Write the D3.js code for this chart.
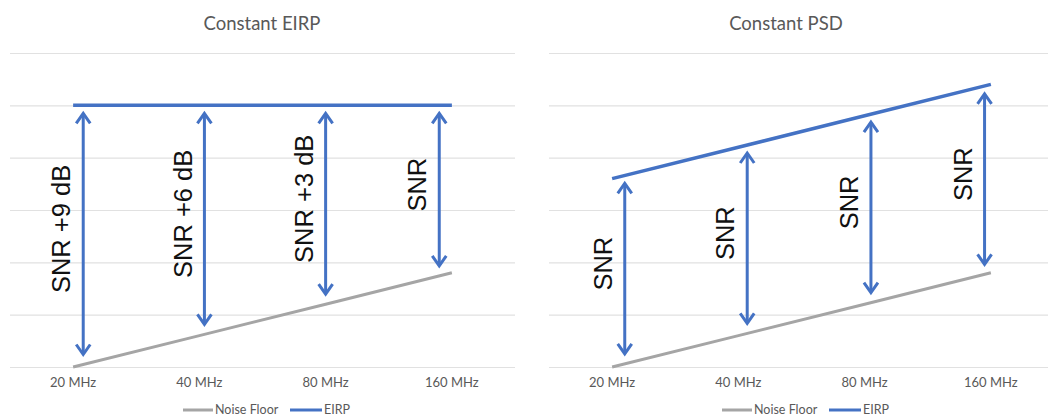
<!DOCTYPE html>
<html>
<head>
<meta charset="utf-8">
<script src="https://cdn.jsdelivr.net/npm/d3@7"></script>
<style>
  html, body { margin: 0; padding: 0; background: #fff; }
  svg { display: block; }
</style>
</head>
<body>
<div class="container"></div>
<script>
/* Data */
const categories = ['20 MHz', '40 MHz', '80 MHz', '160 MHz'];
const noiseFloor = [0, 0.6, 1.2, 1.8];
const eirpConstEirp = [5, 5, 5, 5];
const eirpConstPsd = [3.6, 4.2, 4.8, 5.4];
const titles = ['Constant EIRP', 'Constant PSD'];
const snrLabelsEirp = ['SNR +9 dB', 'SNR +6 dB', 'SNR +3 dB', 'SNR'];
const snrLabelsPsd = ['SNR', 'SNR', 'SNR', 'SNR'];
// where each SNR arrow sits, in category units (0 = first category)
const arrowAtEirp = [0.08, 1.04, 2.0, 2.9];
const arrowAtPsd = [0.1, 1.07, 2.05, 2.95];
const yTicks = [0, 1, 2, 3, 4, 5, 6];

/* Look */
const width = 1048;
const height = 419;
const blue = '#4472C4';
const grey = '#A5A5A5';
const gridColor = '#e1e1e1';
const textGrey = '#595959';
const font = 'Lato, "Open Sans", sans-serif';

const svg = d3.select('.container')
    .append('svg')
    .attr('width', width)
    .attr('height', height);

// Open chevron arrow head, tip at (x, y), pointing dir (-1 up, 1 down)
function chevron(x, y, dir) {
    return `M${x - 7},${y - dir * 10}L${x},${y}L${x + 7},${y - dir * 10}`;
}

function drawPanel(opts) {
    const g = svg.append('g');
    const x = d3.scaleBand().domain(categories).range(opts.xRange).padding(0);
    const y = d3.scaleLinear().domain([0, 6]).range([367, 53]);
    // category index -> pixel (band centers)
    const xi = d3.scaleLinear()
        .domain([0, categories.length - 1])
        .range([x(categories[0]) + x.bandwidth() / 2, x(categories[categories.length - 1]) + x.bandwidth() / 2]);

    // title
    g.append('text')
        .attr('x', opts.titleX)
        .attr('y', 30)
        .attr('text-anchor', 'middle')
        .attr('font-family', font)
        .attr('font-size', 18.5)
        .attr('fill', textGrey)
        .text(opts.title);

    // gridlines
    const grid = g.append('g')
        .attr('transform', `translate(${opts.xRange[0]},0)`)
        .call(d3.axisLeft(y).tickValues(yTicks).tickSize(-(opts.xRange[1] - opts.xRange[0])).tickFormat(''));
    grid.select('.domain').remove();
    grid.selectAll('.tick line').attr('stroke', gridColor).attr('stroke-width', 1.2);

    // category axis
    const xAxis = g.append('g')
        .attr('transform', `translate(0,${y(0)})`)
        .call(d3.axisBottom(x).tickSize(0).tickPadding(11));
    xAxis.select('.domain').remove();
    xAxis.selectAll('text')
        .attr('font-family', font)
        .attr('font-size', 13)
        .attr('fill', textGrey);

    const line = d3.line()
        .x((d, i) => x(categories[i]) + x.bandwidth() / 2)
        .y(d => y(d));

    g.append('path')
        .datum(noiseFloor)
        .attr('d', line)
        .attr('fill', 'none')
        .attr('stroke', grey)
        .attr('stroke-width', 3);

    g.append('path')
        .datum(opts.eirp)
        .attr('d', line)
        .attr('fill', 'none')
        .attr('stroke', blue)
        .attr('stroke-width', 3.5);

    // SNR arrows between noise floor and EIRP
    const interp = (arr, t) => {
        const i = Math.min(Math.floor(t), arr.length - 2);
        return arr[i] + (arr[i + 1] - arr[i]) * (t - i);
    };
    const arrows = opts.arrowAt.map((t, i) => ({
        x: xi(t),
        top: y(interp(opts.eirp, t)) + 8,
        bottom: y(interp(noiseFloor, t)) - 10,
        label: opts.labels[i]
    }));

    const a = g.selectAll('.snr')
        .data(arrows)
        .enter()
        .append('g')
        .attr('class', 'snr');

    a.append('path')
        .attr('d', d => `M${d.x},${d.top + 1}L${d.x},${d.bottom - 1}`)
        .attr('stroke', blue)
        .attr('stroke-width', 3);
    a.append('path')
        .attr('d', d => chevron(d.x, d.top, -1) + chevron(d.x, d.bottom, 1))
        .attr('fill', 'none')
        .attr('stroke', blue)
        .attr('stroke-width', 3)
        .attr('stroke-linejoin', 'miter');

    a.append('text')
        .attr('transform', d => `translate(${d.x - 22},${(d.top + d.bottom) / 2 - 5}) rotate(-90)`)
        .attr('dy', '0.36em')
        .attr('text-anchor', 'middle')
        .attr('font-family', '"Liberation Sans", Arial, sans-serif')
        .attr('font-size', 25.5)
        .attr('fill', '#111')
        .text(d => d.label);

    // legend
    const lg = g.append('g')
        .attr('transform', `translate(${opts.legendX},410)`);
    lg.append('line').attr('x1', 0).attr('x2', 30).attr('stroke', grey).attr('stroke-width', 3);
    lg.append('text').attr('x', 32).attr('dy', '0.35em')
        .attr('font-family', font).attr('font-size', 12.5).attr('fill', textGrey)
        .text('Noise Floor');
    lg.append('line').attr('x1', 107).attr('x2', 139).attr('stroke', blue).attr('stroke-width', 3);
    lg.append('text').attr('x', 141).attr('dy', '0.35em')
        .attr('font-family', font).attr('font-size', 12.5).attr('fill', textGrey)
        .text('EIRP');
}

drawPanel({
    title: titles[0], titleX: 262, xRange: [10, 515],
    eirp: eirpConstEirp, arrowAt: arrowAtEirp, labels: snrLabelsEirp, legendX: 183
});
drawPanel({
    title: titles[1], titleX: 786, xRange: [549, 1054],
    eirp: eirpConstPsd, arrowAt: arrowAtPsd, labels: snrLabelsPsd, legendX: 722
});
</script>
</body>
</html>
